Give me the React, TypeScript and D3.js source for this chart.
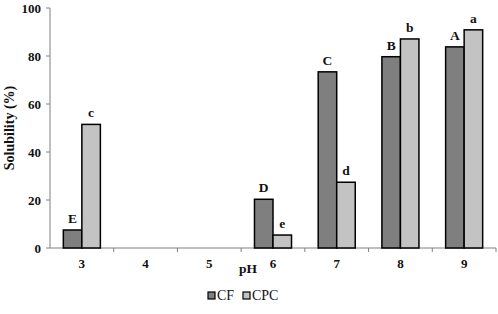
import React from "react";
import * as d3 from "d3";

const categories = ["3", "4", "5", "6", "7", "8", "9"];
const seriesNames = ["CF", "CPC"];
const cfValues: (number | null)[] = [7.5, null, null, 20.3, 73.4, 79.7, 83.8];
const cpcValues: (number | null)[] = [51.5, null, null, 5.4, 27.4, 87.1, 90.9];
const cfLetters = ["E", "", "", "D", "C", "B", "A"];
const cpcLetters = ["c", "", "", "e", "d", "b", "a"];
const yTicks = [0, 20, 40, 60, 80, 100];

const W = 498;
const H = 314;
const left = 50;
const right = 496;
const top = 8;
const bottom = 248;
const colors: Record<string, string> = { CF: "#7f7f7f", CPC: "#c3c3c3" };
const font = "'Liberation Serif', 'Times New Roman', serif";

export default function App() {
  const x = d3.scaleBand<string>().domain(categories).range([left, right]).padding(0);
  const x1 = d3
    .scaleBand<string>()
    .domain(seriesNames)
    .range([0, x.bandwidth()])
    .paddingInner(0)
    .paddingOuter(0.72);
  const y = d3.scaleLinear().domain([0, 100]).range([bottom, top]);

  const series = [
    { name: "CF", values: cfValues, letters: cfLetters },
    { name: "CPC", values: cpcValues, letters: cpcLetters },
  ];

  const tickPositions = categories.map((c) => (x(c) as number) + x.bandwidth());

  return (
    <svg
      width={W}
      height={H}
      style={{ position: "absolute", left: 0, top: 0, background: "#fff" }}
      fontFamily={font}
    >
      <rect x={0} y={0} width={W} height={H} fill="#fff" />
      {/* y axis */}
      <line x1={left} x2={left} y1={top} y2={bottom} stroke="#808080" strokeWidth={1} />
      {yTicks.map((t) => (
        <g key={t}>
          <line x1={left - 4} x2={left} y1={y(t)} y2={y(t)} stroke="#808080" />
          <text
            x={left - 9}
            y={y(t)}
            dy="0.35em"
            textAnchor="end"
            fontSize={13}
            fontWeight="bold"
            fill="#111"
          >
            {t}
          </text>
        </g>
      ))}
      {/* x axis */}
      <line x1={left} x2={right} y1={bottom} y2={bottom} stroke="#808080" strokeWidth={1} />
      {tickPositions.map((p, i) => (
        <line key={i} x1={p} x2={p} y1={bottom} y2={bottom + 4} stroke="#808080" />
      ))}
      {categories.map((c) => (
        <text
          key={c}
          x={(x(c) as number) + x.bandwidth() / 2}
          y={bottom + 20}
          textAnchor="middle"
          fontSize={13}
          fontWeight="bold"
          fill="#111"
        >
          {c}
        </text>
      ))}
      {/* bars */}
      {series.map((s) =>
        categories.map((c, i) => {
          const v = s.values[i];
          if (v == null) return null;
          const bx = (x(c) as number) + (x1(s.name) as number);
          return (
            <g key={s.name + c}>
              <rect
                x={bx}
                y={y(v)}
                width={x1.bandwidth()}
                height={bottom - y(v)}
                fill={colors[s.name]}
                stroke="#000"
                strokeWidth={1.5}
              />
              <text
                x={bx + x1.bandwidth() / 2}
                y={y(v) - 7}
                textAnchor="middle"
                fontSize={13.5}
                fontWeight="bold"
                fill="#111"
              >
                {s.letters[i]}
              </text>
            </g>
          );
        })
      )}
      {/* axis titles */}
      <text
        transform={`translate(9, ${(top + bottom) / 2}) rotate(-90)`}
        textAnchor="middle"
        dy="0.35em"
        fontSize={14}
        fontWeight="bold"
        fill="#111"
      >
        Solubility (%)
      </text>
      <text x={248} y={273} textAnchor="middle" fontSize={13.5} fontWeight="bold" fill="#111">
        pH
      </text>
      {/* legend */}
      <g>
        <rect x={208} y={292} width={7} height={7} fill={colors.CF} stroke="#000" strokeWidth={1.2} />
        <text x={217} y={300} fontSize={14} fill="#111">
          CF
        </text>
        <rect x={243} y={292} width={7} height={7} fill={colors.CPC} stroke="#000" strokeWidth={1.2} />
        <text x={252} y={300} fontSize={14} fill="#111">
          CPC
        </text>
      </g>
    </svg>
  );
}
